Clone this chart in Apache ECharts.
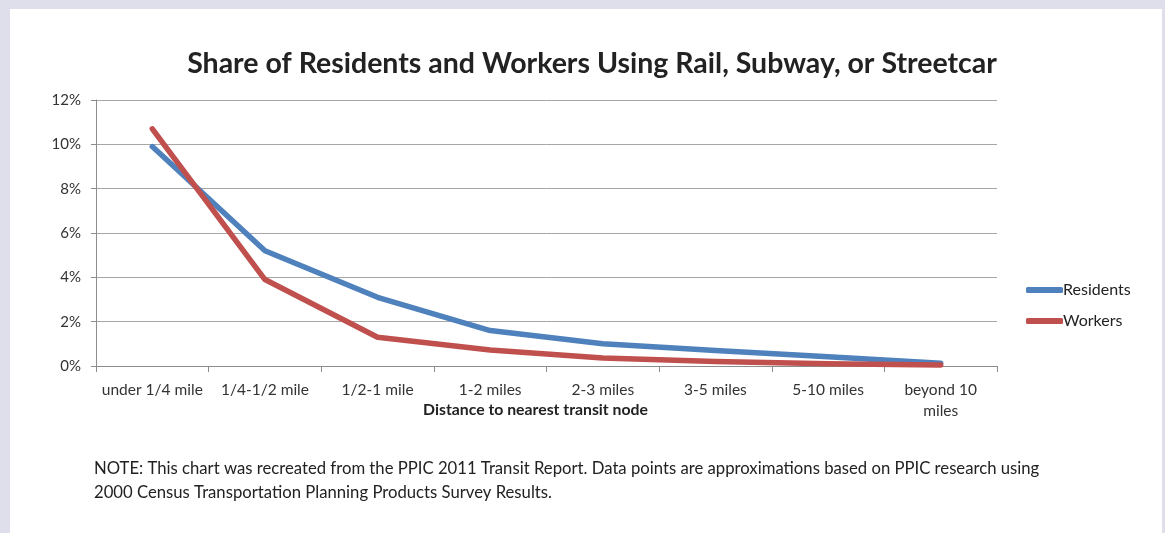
<!DOCTYPE html>
<html>
<head>
<meta charset="utf-8">
<script src="https://cdn.jsdelivr.net/npm/echarts@6/dist/echarts.min.js"></script>
<style>
html,body{margin:0;padding:0;width:1165px;height:533px;background:#dfdfec;overflow:hidden;}
#panel{position:absolute;left:10px;top:9px;width:1152px;height:524px;background:#fff;}
#chart{position:absolute;left:0;top:0;width:1165px;height:533px;}
</style>
</head>
<body>
<div id="panel"></div>
<div id="chart"></div>
<script>
var titleText = 'Share of Residents and Workers Using Rail, Subway, or Streetcar';
var categories = ['under 1/4 mile', '1/4-1/2 mile', '1/2-1 mile', '1-2 miles', '2-3 miles', '3-5 miles', '5-10 miles', 'beyond 10\nmiles'];
var residents = [9.9, 5.2, 3.1, 1.6, 1.0, 0.7, 0.42, 0.12];
var workers = [10.7, 3.9, 1.3, 0.72, 0.36, 0.2, 0.1, 0.05];
var xAxisName = 'Distance to nearest transit node';
var noteText = 'NOTE: This chart was recreated from the PPIC 2011 Transit Report. Data points are approximations based on PPIC research using\n2000 Census Transportation Planning Products Survey Results.';

var FONT = 'Lato, "Open Sans", sans-serif';
var chart = echarts.init(document.getElementById('chart'), null, {renderer: 'canvas'});
chart.setOption({
  backgroundColor: 'transparent',
  animation: false,
  textStyle: {fontFamily: FONT},
  grid: {left: 96, top: 100, right: 168, bottom: 167},
  legend: {
    orient: 'vertical', left: 1021, top: 276, itemWidth: 37, itemHeight: 6, itemGap: 13,
    icon: 'roundRect',
    textStyle: {fontSize: 16, color: '#222', fontFamily: FONT, padding: [0, 0, 0, -5], lineHeight: 18},
    data: ['Residents', 'Workers']
  },
  xAxis: {
    type: 'category', data: categories, boundaryGap: true,
    axisLine: {lineStyle: {color: '#8c8c8c'}},
    axisTick: {show: true, length: 6, lineStyle: {color: '#8c8c8c'}},
    axisLabel: {fontSize: 15.5, color: '#333', margin: 13, lineHeight: 21, interval: 0},
    name: xAxisName, nameLocation: 'middle', nameGap: 36, nameMoveOverlap: false,
    nameTextStyle: {fontSize: 15.8, fontWeight: 'bold', color: '#222', padding: [0, 22, 0, 0]}
  },
  yAxis: {
    type: 'value', min: 0, max: 12, interval: 2,
    axisLine: {show: true, lineStyle: {color: '#8c8c8c'}},
    axisTick: {show: true, length: 5, lineStyle: {color: '#8c8c8c'}},
    axisLabel: {fontSize: 15, color: '#333', margin: 15, formatter: '{value}%'},
    splitLine: {lineStyle: {color: '#a6a6a6', width: 1}}
  },
  series: [
    {name: 'Residents', type: 'line', data: residents, symbol: 'none', lineStyle: {color: '#4f81bd', width: 5.5, cap: 'round', join: 'round'}, itemStyle: {color: '#4f81bd'}},
    {name: 'Workers', type: 'line', data: workers, symbol: 'none', lineStyle: {color: '#c0504d', width: 5.5, cap: 'round', join: 'round'}, itemStyle: {color: '#c0504d'}}
  ],
  graphic: [
    {type: 'text', x: 592, y: 64, style: {text: titleText, align: 'center', verticalAlign: 'middle', fontSize: 28.5, fontWeight: 'bold', fill: '#222', fontFamily: FONT}},
    {type: 'text', left: 94, top: 457, style: {text: noteText, fontSize: 16.7, lineHeight: 24, fill: '#222', fontFamily: FONT}}
  ]
});
</script>
</body>
</html>
